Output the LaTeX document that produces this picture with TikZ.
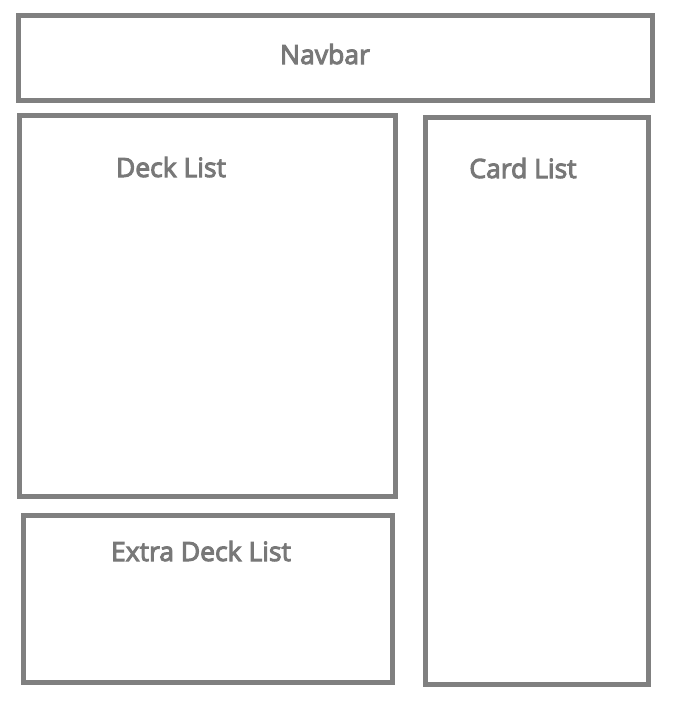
\documentclass[tikz,border=0pt]{standalone}
\usepackage{fontspec}
\setmainfont{Open Sans}
\definecolor{boxgray}{HTML}{808080}
\definecolor{txtgray}{HTML}{787878}
\newcommand{\heavytext}[1]{\special{pdf:literal direct 2 Tr 1.0 w}#1\special{pdf:literal direct 0 Tr}}
\begin{document}
\begin{tikzpicture}[x=1pt,y=-1pt,
  panel/.style={draw=boxgray,line width=5pt},
  lbl/.style={text=txtgray,font=\fontsize{26.5}{30}\selectfont,inner sep=0pt,anchor=base}]
\useasboundingbox[fill=white] (0,0) rectangle (680,723);
\draw[panel] (18.5,15.5) rectangle (652.5,100.5);
\draw[panel] (19.5,115.5) rectangle (395.5,496);
\draw[panel] (23.5,515.5) rectangle (392.5,682.5);
\draw[panel] (425.5,117.5) rectangle (648.5,684.5);
\node[lbl] (navbar) at (325,64) {\heavytext{Navbar}};
\node[lbl] (deck) at (171,177) {\heavytext{Deck List}};
\node[lbl] (card) at (523,178) {\heavytext{Card List}};
\node[lbl] (extra) at (201,561) {\heavytext{Extra Deck List}};
\end{tikzpicture}
\end{document}
